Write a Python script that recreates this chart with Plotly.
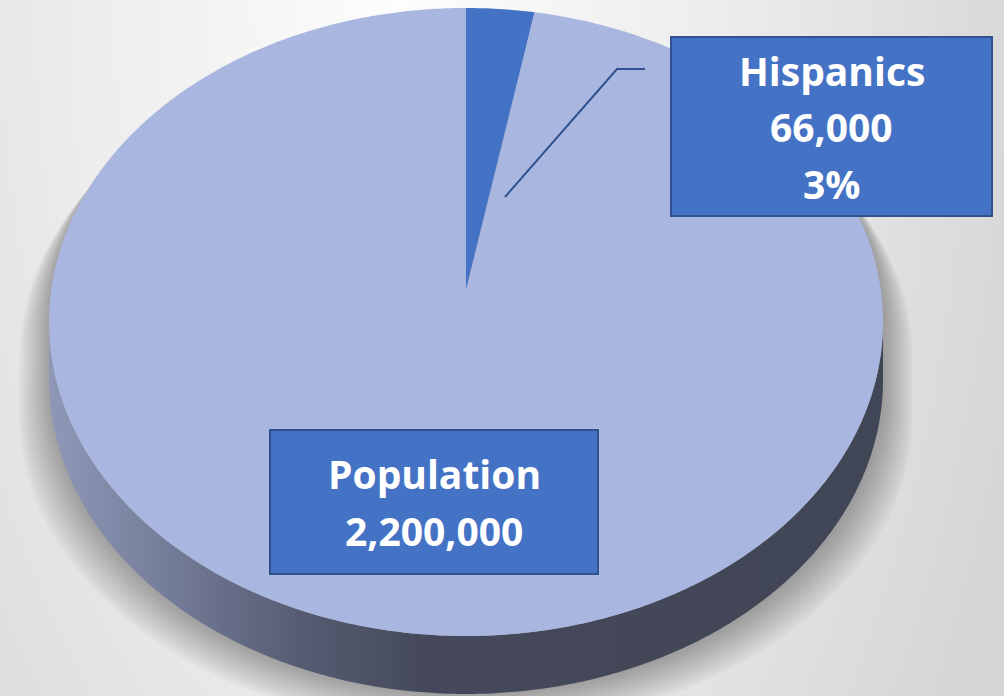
import numpy as np
import plotly.graph_objects as go

# ---- data -------------------------------------------------------------
categories = ["Hispanics", "Population"]
values = [66000, 2200000]
slice_colors = ["#4472C4", "#A9B6DF"]
show_percent = [True, False]

# ---- canvas / pie geometry (pixel units) ------------------------------
W, H = 1004, 696
CX, CY = 466.0, 290.0          # projected pie centre
TOP_Y, BOTTOM_Y = 8.0, 636.0   # far / near rim of the top face
HALF_W = 417.0                 # half width of the top face
DEPTH = 58.0                   # visible thickness of the pie

# perspective tilt of the disc: circle (u, v) -> screen
C = (2 * CY - BOTTOM_Y - TOP_Y) / (TOP_Y - BOTTOM_Y)
A = TOP_Y * (1 + C) - CY
D = HALF_W * np.sqrt(1 - C * C)


def project(theta, drop=0.0):
    u, v = np.sin(theta), np.cos(theta)
    w = 1 + C * v
    return CX + D * u / w, (A * v + CY) / w + drop


fig = go.Figure()

# background: soft radial light from the top
fig.add_trace(go.Scatter(
    x=[-260, 1060, 1060, -260, -260], y=[-1300, -1300, 1300, 1300, -1300],
    mode="none", fill="toself", hoverinfo="skip",
    fillgradient=dict(type="radial",
                      colorscale=[[0, "#fdfdfd"], [0.5, "#ececec"], [1, "#d5d5d5"]]),
))

# outline of the whole pie body (far rim of the top + near rim of the base)
dense = np.linspace(0, 2 * np.pi, 2001)
dx, _ = project(dense)
t_right = dense[np.argmax(dx)]
t_left = dense[np.argmin(dx)]
far = np.linspace(t_left, t_right + 2 * np.pi, 400)
front = np.linspace(t_right, t_left, 400)
fx, fy = project(far)
nx, ny = project(front, DEPTH)
hull_x = np.concatenate([fx, nx, fx[:1]])
hull_y = np.concatenate([fy, ny, fy[:1]])

# soft drop shadow under the pie
for k in range(14):
    fig.add_trace(go.Scatter(
        x=CX + (hull_x - CX) * (1.0 + 0.0055 * k), y=hull_y + 2 + 2.6 * k,
        mode="none", fill="toself",
        fillcolor="rgba(0,0,0,0.022)", hoverinfo="skip"))

# side wall of the pie (front half)
tx, ty = project(front)
bx, by = project(front[::-1], DEPTH)
fig.add_trace(go.Scatter(
    x=np.concatenate([tx, bx, tx[:1]]), y=np.concatenate([ty, by, ty[:1]]),
    mode="none", fill="toself", hoverinfo="skip",
    fillgradient=dict(type="horizontal",
                      colorscale=[[0, "#8f99b7"], [0.12, "#78819e"],
                                  [0.3, "#565c72"], [0.45, "#45495b"],
                                  [1, "#414656"]]),
))

# top face slices, clockwise from 12 o'clock
total = float(sum(values))
start = 0.0
for name, val, col in zip(categories, values, slice_colors):
    sweep = 2 * np.pi * val / total
    th = np.linspace(start, start + sweep, max(3, int(sweep / 0.01)))
    px, py = project(th)
    fig.add_trace(go.Scatter(
        x=np.concatenate([[CX], px, [CX]]), y=np.concatenate([[CY], py, [CY]]),
        mode="none", fill="toself", fillcolor=col,
        name=name, hoverinfo="name"))
    start += sweep

# ---- data labels ------------------------------------------------------
label_boxes = {
    "Hispanics": dict(x0=671, x1=992, y0=37, y1=216),
    "Population": dict(x0=270, x1=598, y0=430, y1=574),
}
LINE_STEP = 56.5
shapes = []
annotations = []
for name, val, pct_on in zip(categories, values, show_percent):
    lines = [name, f"{val:,}"]
    if pct_on:
        lines.append(f"{round(100 * val / total):.0f}%")
    box = label_boxes[name]
    shapes.append(dict(type="rect", xref="x", yref="y", **box,
                       fillcolor="#4472C4", line=dict(color="#2F528F", width=2)))
    mx = (box["x0"] + box["x1"]) / 2
    my = (box["y0"] + box["y1"]) / 2
    n = len(lines)
    for i, t in enumerate(lines):
        annotations.append(dict(
            x=mx, y=my + (i - (n - 1) / 2) * LINE_STEP, xref="x", yref="y",
            text=f"<b>{t}</b>", showarrow=False, xanchor="center", yanchor="middle",
            font=dict(family="Open Sans", size=39, color="white")))

# leader line for the small slice
shapes.append(dict(type="path", xref="x", yref="y",
                   path="M 505 197 L 617 69 L 645 69",
                   line=dict(color="#2F528F", width=2)))

fig.update_layout(
    width=W, height=H, margin=dict(l=0, r=0, t=0, b=0),
    paper_bgcolor="#e6e6e6", plot_bgcolor="rgba(0,0,0,0)",
    showlegend=False, shapes=shapes, annotations=annotations,
    xaxis=dict(range=[0, W], visible=False, fixedrange=True),
    yaxis=dict(range=[H, 0], visible=False, fixedrange=True),
)

fig.write_html("out.html")
